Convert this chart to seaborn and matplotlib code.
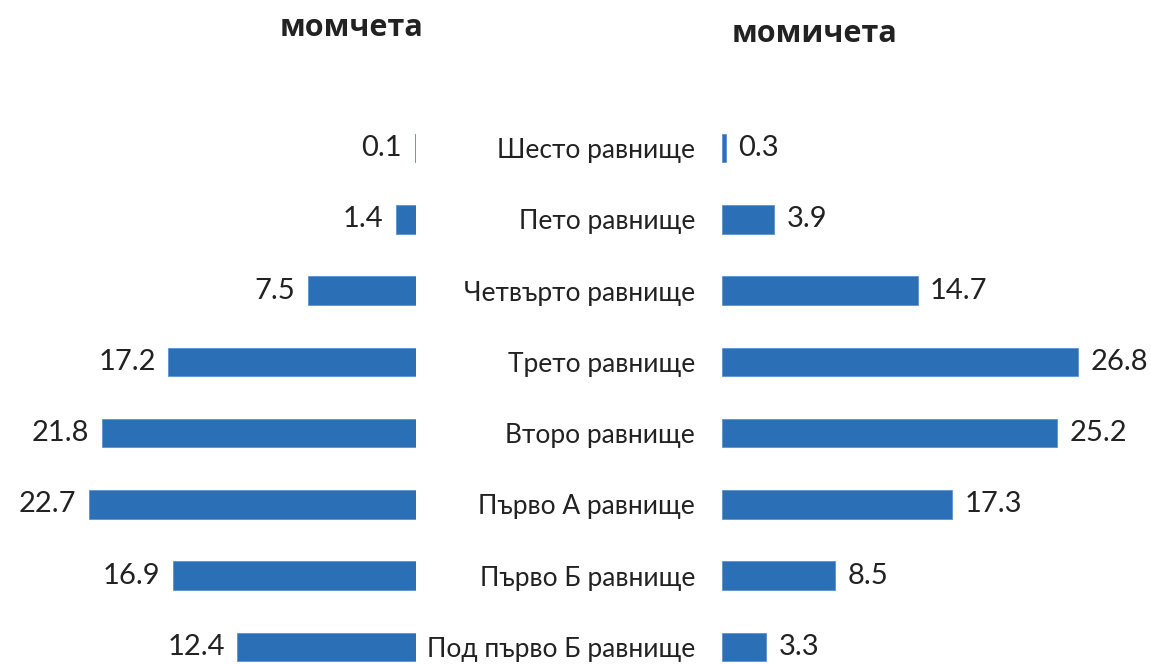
import seaborn as sns
import matplotlib.pyplot as plt
import pandas as pd

# levels, top to bottom
levels = ['Шесто равнище', 'Пето равнище', 'Четвърто равнище', 'Трето равнище',
          'Второ равнище', 'Първо А равнище', 'Първо Б равнище', 'Под първо Б равнище']
boys = [0.1, 1.4, 7.5, 17.2, 21.8, 22.7, 16.9, 12.4]
girls = [0.3, 3.9, 14.7, 26.8, 25.2, 17.3, 8.5, 3.3]

bar_color = '#2b6fb6'

sns.set_style('white')
plt.rcParams['font.family'] = ['Lato', 'DejaVu Sans']

df = pd.DataFrame({'level': levels, 'boys': boys, 'girls': girls})

fig = plt.figure(figsize=(11.51, 6.64), dpi=100)
W, H = 1151, 664
ax_l = fig.add_axes([0, 0, 416 / W, 1])
ax_r = fig.add_axes([722 / W, 0, (W - 722) / W, 1])

sns.barplot(data=df, x='boys', y='level', order=levels, color=bar_color,
            saturation=1, width=0.4, edgecolor='#5b93cf', linewidth=0.6, ax=ax_l)
sns.barplot(data=df, x='girls', y='level', order=levels, color=bar_color,
            saturation=1, width=0.4, edgecolor='#5b93cf', linewidth=0.6, ax=ax_r)

ax_l.set_xlim(416 / 14.4, 0)
ax_r.set_xlim(0, (W - 722) / 13.3)
for ax in (ax_l, ax_r):
    ax.set_ylim(7 + (664 - 647) / 71.3, -148 / 71.3)
    ax.set_xlabel('')
    ax.set_ylabel('')
    ax.set_xticks([])
    sns.despine(ax=ax, left=True, bottom=True)
    ax.bar_label(ax.containers[0], fmt='%.1f', padding=9, fontsize=21, color='#222222')

ax_l.set_yticks([])
ax_r.tick_params(axis='y', length=0, pad=19.5, labelsize=19, labelcolor='#222222')

fig.text(352 / W, 1 - 28 / H, 'момчета', ha='center', va='center', fontsize=22,
         fontweight='bold', family=['Open Sans', 'DejaVu Sans'], color='#222222')
fig.text(815 / W, 1 - 34 / H, 'момичета', ha='center', va='center', fontsize=22,
         fontweight='bold', family=['Open Sans', 'DejaVu Sans'], color='#222222')

fig.savefig('out.png', dpi=100)
